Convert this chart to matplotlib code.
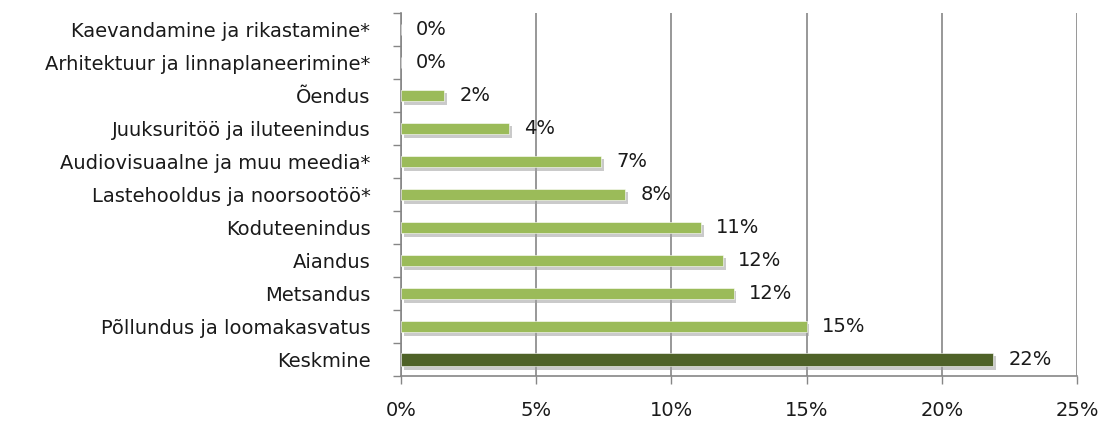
import matplotlib.pyplot as plt
import matplotlib.patheffects as pe
import numpy as np

categories = [
    "Kaevandamine ja rikastamine*",
    "Arhitektuur ja linnaplaneerimine*",
    "Õendus",
    "Juuksuritöö ja iluteenindus",
    "Audiovisuaalne ja muu meedia*",
    "Lastehooldus ja noorsootöö*",
    "Koduteenindus",
    "Aiandus",
    "Metsandus",
    "Põllundus ja loomakasvatus",
    "Keskmine",
]
values = [0.0, 0.0, 1.6, 4.0, 7.4, 8.3, 11.1, 11.9, 12.3, 15.0, 21.9]
labels = ["0%", "0%", "2%", "4%", "7%", "8%", "11%", "12%", "12%", "15%", "22%"]
xticks = [0, 5, 10, 15, 20, 25]

LIGHT = "#9bbb59"
DARK = "#4f6228"
TXT = "#1a1a1a"
FS = 14

fig = plt.figure(figsize=(11.03, 4.28), dpi=100)
ax = fig.add_axes([401 / 1103, 1 - 376 / 428, 676 / 1103, 363 / 428])

n = len(categories)
y = np.arange(n)[::-1]
colors = [LIGHT] * (n - 1) + [DARK]
heights = [0.36] * (n - 1) + [0.40]
shadow = [pe.SimplePatchShadow(offset=(2, -2.5), shadow_rgbFace="#a0a0a0", alpha=0.55), pe.Normal()]
bars = ax.barh(y, values, height=heights, color=colors, zorder=3,
               edgecolor="white", linewidth=0.4)
for b in bars:
    b.set_path_effects(shadow)

for yi, v, lab in zip(y, values, labels):
    ax.annotate(lab, (v, yi), xytext=(15, 0), textcoords="offset pixels",
                va="center", ha="left", fontsize=FS, color=TXT)

ax.set_xlim(0, 25)
ax.set_ylim(-0.5, n - 0.5)
ax.set_xticks(xticks)
ax.set_xticklabels([f"{t}%" for t in xticks], fontsize=FS, color=TXT)
ax.tick_params(axis="x", length=6, width=1, color="#868686", pad=12)
ax.set_yticks(y)
ax.set_yticklabels(categories, fontsize=FS, color=TXT)
ax.tick_params(axis="y", length=0, pad=22)
ax.set_yticks(np.arange(-0.5, n, 1.0), minor=True)
ax.tick_params(axis="y", which="minor", length=6, width=1, color="#868686")
ax.xaxis.grid(True, color="#868686", linewidth=1.2, zorder=0)
ax.set_axisbelow(True)
ax.spines["top"].set_visible(False)
ax.spines["right"].set_visible(False)
for s in ["left", "bottom"]:
    ax.spines[s].set_color("#868686")
    ax.spines[s].set_linewidth(1.2)

fig.savefig("out.png", dpi=100)
